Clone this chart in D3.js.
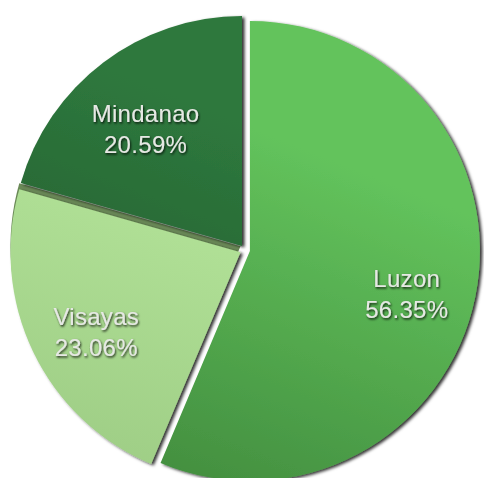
<!DOCTYPE html>
<html lang="en">
<head>
  <meta charset="UTF-8">
  <title>Philippines island groups</title>
  <style>
    html, body {
      margin: 0;
      padding: 0;
      background: #fff;
    }
    text {
      font-family: 'Liberation Sans', Arial, Helvetica, sans-serif;
    }
  </style>
</head>
<body>
  <svg id="svg" width="484" height="478"></svg>
  <script src="https://d3js.org/d3.v7.min.js"></script>
  <script>
    // island groups, clockwise from 12 o'clock
    const regions = ['Luzon', 'Visayas', 'Mindanao']
    const shares = [56.35, 23.06, 20.59]
    const topColors = ['#63c35c', '#b8e89d', '#2e783d']
    const bottomColors = ['#367a34', '#95c47d', '#1c4c25']

    const data = regions.map((name, i) => ({ name, value: shares[i], i }))

    const cx = 245
    const cy = 250
    const radius = 230
    const explode = 5

    const svg = d3.select('#svg')
    const defs = svg.append('defs')

    // soft drop shadow under each slice
    const shadow = defs.append('filter')
      .attr('id', 'shadow')
      .attr('x', '-10%').attr('y', '-10%')
      .attr('width', '120%').attr('height', '120%')
    shadow.append('feDropShadow')
      .attr('dx', 2.5).attr('dy', 1.5)
      .attr('stdDeviation', 1.5)
      .attr('flood-color', '#000')
      .attr('flood-opacity', 0.8)

    const textShadow = defs.append('filter')
      .attr('id', 'textShadow')
      .attr('x', '-20%').attr('y', '-40%')
      .attr('width', '140%').attr('height', '180%')
    textShadow.append('feDropShadow')
      .attr('dx', 1).attr('dy', 1.5)
      .attr('stdDeviation', 1)
      .attr('flood-color', '#000')
      .attr('flood-opacity', 0.8)

    // lighter at the top right, darker toward the bottom left
    data.forEach(d => {
      const g = defs.append('linearGradient')
        .attr('id', 'grad' + d.i)
        .attr('gradientUnits', 'userSpaceOnUse')
        .attr('x1', cx + radius * 0.5).attr('y1', cy - radius)
        .attr('x2', cx - radius * 0.3).attr('y2', cy + radius)
      g.append('stop').attr('offset', '0%').attr('stop-color', topColors[d.i])
      g.append('stop').attr('offset', '100%').attr('stop-color', bottomColors[d.i])
    })

    const pie = d3.pie().value(d => d.value).sort(null)
    const arcs = pie(data)

    const arc = d3.arc().innerRadius(0).outerRadius(radius)
    const labelArc = d3.arc().innerRadius(160).outerRadius(160)

    // move each slice out along its middle angle
    const offset = d => {
      const a = (d.startAngle + d.endAngle) / 2
      return [cx + explode * Math.sin(a), cy - explode * Math.cos(a)]
    }

    const root = svg.append('g')

    // olive side of the Visayas slice (3d edge)
    const vis = arcs[1]
    root.append('path')
      .attr('transform', `translate(${offset(vis)[0]}, ${offset(vis)[1] - 6})`)
      .attr('d', arc(vis))
      .attr('fill', '#6b8a58')

    // draw order: Visayas, Luzon, Mindanao
    const order = [arcs[1], arcs[0], arcs[2]]

    root.selectAll('path.slice')
      .data(order)
      .join('path')
      .attr('class', 'slice')
      .attr('transform', d => `translate(${offset(d)[0]}, ${offset(d)[1]})`)
      .attr('d', arc)
      .attr('fill', d => `url(#grad${d.data.i})`)
      .attr('filter', 'url(#shadow)')

    const labels = root.selectAll('g.label')
      .data(arcs)
      .join('g')
      .attr('class', 'label')
      .attr('transform', d => {
        const [x, y] = offset(d)
        const [lx, ly] = labelArc.centroid(d)
        return `translate(${x + lx}, ${y + ly + 4})`
      })
      .attr('filter', 'url(#textShadow)')

    labels.append('text')
      .attr('text-anchor', 'middle')
      .attr('font-size', 24)
      .attr('letter-spacing', 0.3)
      .attr('fill', '#e6e8e4')
      .text(d => d.data.name)

    labels.append('text')
      .attr('text-anchor', 'middle')
      .attr('y', 31)
      .attr('font-size', 24)
      .attr('letter-spacing', 0.3)
      .attr('fill', '#e6e8e4')
      .text(d => d.data.value.toFixed(2) + '%')
  </script>
</body>
</html>
